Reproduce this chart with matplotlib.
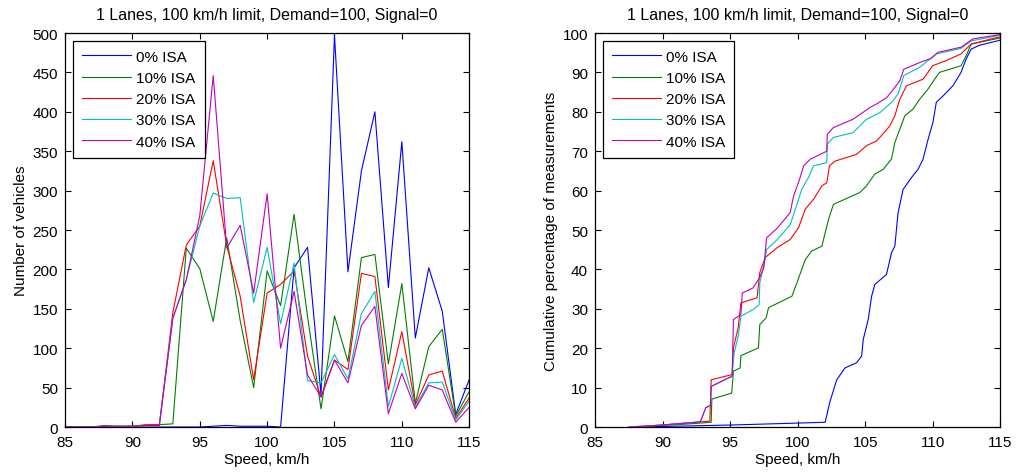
import matplotlib
matplotlib.use('Agg')
import matplotlib.pyplot as plt

plt.rcParams['font.family'] = ['Liberation Sans', 'DejaVu Sans']
plt.rcParams['font.size'] = 11

# --- histogram data (vehicles per 1 km/h speed bin) ---
speeds = list(range(85, 116))
veh_0 = [0, 0, 0, 1, 0, 0, 0, 0, 0, 0, 0, 1, 2, 1, 1, 1, 0, 202, 228, 41,
         497, 197, 325, 400, 177, 362, 113, 202, 147, 16, 60]
veh_10 = [0, 0, 0, 2, 0, 1, 2, 3, 4, 227, 201, 134, 240, 135, 50, 198, 154, 270, 140, 23,
          141, 83, 215, 219, 80, 182, 30, 102, 124, 14, 45]
veh_20 = [0, 0, 0, 1, 1, 1, 3, 3, 145, 231, 255, 338, 230, 166, 60, 170, 181, 198, 90, 38,
          85, 73, 195, 191, 47, 121, 28, 66, 71, 11, 37]
veh_30 = [0, 0, 0, 1, 1, 1, 2, 2, 138, 187, 255, 297, 290, 291, 158, 228, 131, 208, 59, 56,
          92, 61, 144, 172, 26, 87, 25, 56, 57, 9, 33]
veh_40 = [0, 0, 0, 1, 1, 1, 2, 2, 138, 187, 268, 446, 227, 256, 170, 296, 100, 172, 66, 38,
          85, 56, 129, 153, 17, 68, 23, 53, 47, 6, 25]

# --- cumulative curves (speed, percent) ---
cs_0 = [88, 95, 102.04, 102.4, 102.9, 103.51, 104.37, 104.74, 104.86, 105.23, 105.48, 105.72,
        106.58, 106.95, 107.2, 107.44, 107.81, 108.43, 108.92, 109.29, 109.66, 110.02, 110.27,
        110.76, 111.5, 112.1, 112.48, 112.85, 113.46, 114.8, 115]
cp_0 = [0, 0.5, 1.2, 6.5, 12, 15, 16.3, 18, 22.2, 27.3, 33.2, 36.2,
        38.7, 44.2, 45.9, 54.4, 60.3, 63.3, 65.4, 68, 73, 77.3, 82.4,
        84, 86.6, 90, 93.4, 95.9, 96.9, 98, 98.2]
cs_10 = [88, 92, 93.6, 93.65, 95.12, 95.25, 95.75, 95.8, 97.1, 97.2, 97.67, 97.85, 99.58, 99.95,
         100.57, 101.06, 101.8, 102.04, 102.29, 102.65, 104.6, 105.1, 105.72, 106.34, 106.95,
         107.2, 107.94, 108.55, 109.04, 109.66, 110.15, 110.5, 112.1, 112.48, 112.85, 114.8, 115]
cp_10 = [0, 0.8, 1.2, 7.1, 8.6, 14.2, 15, 18.1, 20.1, 26, 27.7, 30.3, 33.2, 36.6,
         42.5, 44.7, 45.9, 49.3, 52.7, 56.5, 59.5, 61.2, 64.2, 65.4, 68,
         72.2, 79, 80.7, 83.2, 85.8, 88.3, 90, 91.7, 94.2, 97.2, 98.6, 98.7]
cs_20 = [88, 91, 93.5, 93.6, 95.15, 95.25, 95.6, 95.8, 97.0, 97.2, 97.6, 98.47, 99.46, 100.07,
         100.57, 101.18, 101.8, 102.16, 102.36, 102.78, 104.37, 105.1, 105.85, 106.83, 107.2,
         107.57, 108.06, 109.3, 110.0, 111.0, 112.1, 112.85, 114.8, 115]
cp_20 = [0, 0.8, 1.5, 12, 13.3, 20.1, 25.2, 31.5, 32.8, 39.2, 43, 45.5, 47.6, 50.6,
         55.3, 57.8, 61.2, 62, 66.3, 67.5, 69.2, 71.4, 72.6, 76.4, 79,
         83.2, 86.6, 88.3, 91.7, 93, 94.7, 97.2, 98.9, 99.0]
cs_30 = [87.5, 90, 92.8, 93.2, 93.55, 93.6, 95.15, 95.3, 95.6, 95.8, 96.7, 97.15, 97.2, 97.6,
         97.7, 98.5, 99.46, 99.95, 100.3, 100.8, 101.18, 102.16, 102.2, 102.65, 104.1, 105.1,
         106.1, 106.95, 107.44, 107.86, 109.04, 110.27, 112.1, 112.85, 114.8, 115]
cp_30 = [0, 0.5, 1.3, 4.9, 5.5, 10.3, 12.9, 18.8, 23, 28.1, 29.8, 31, 36.6, 42.5,
         45, 47.6, 51.4, 56.5, 60.3, 63.3, 66.3, 67.1, 71.8, 73.5, 74.7, 78.1,
         79.8, 82.4, 84.5, 89.2, 91.3, 94.7, 96.1, 98, 99.3, 99.4]
cs_40 = [87.5, 90, 92.8, 93.2, 93.55, 93.6, 95.15, 95.25, 95.8, 95.9, 96.7, 97.2, 97.5, 97.7,
         98.5, 99.45, 99.7, 100.1, 100.45, 100.95, 102.16, 102.2, 102.65, 104.1, 105.36, 105.85,
         106.6, 107.2, 107.57, 107.86, 109.04, 109.9, 110.4, 112.1, 112.97, 114.8, 115]
cp_40 = [0, 0.5, 1.3, 4.9, 5.5, 10.3, 12.9, 27.3, 28.5, 34, 35.3, 38, 40.5, 48,
         50.5, 54.4, 58.6, 62.4, 66.3, 68, 70, 74.3, 76, 78.1, 81.1, 82,
         83.6, 86.2, 87.9, 90.8, 92.5, 93.6, 95.1, 96.4, 98.5, 99.5, 99.6]

labels = ['0% ISA', '10% ISA', '20% ISA', '30% ISA', '40% ISA']
colors = [(0, 0, 1), (0, 0.5, 0), (1, 0, 0), (0, 0.75, 0.75), (0.75, 0, 0.75)]
title = '1 Lanes, 100 km/h limit, Demand=100, Signal=0'

fig = plt.figure(figsize=(10.18, 4.77), dpi=100)
ax1 = fig.add_axes([0.0639, 0.1027, 0.397, 0.826])
ax2 = fig.add_axes([0.5845, 0.1027, 0.398, 0.826])

for vals, lab, col in zip([veh_0, veh_10, veh_20, veh_30, veh_40], labels, colors):
    ax1.plot(speeds, vals, color=col, lw=0.8, label=lab)

for xs, ys, lab, col in zip([cs_0, cs_10, cs_20, cs_30, cs_40],
                            [cp_0, cp_10, cp_20, cp_30, cp_40], labels, colors):
    ax2.plot(xs, ys, color=col, lw=0.8, label=lab)

ax1.set_ylim(0, 500)
ax1.set_yticks(range(0, 501, 50))
ax1.set_ylabel('Number of vehicles', labelpad=3)
ax2.set_ylim(0, 100)
ax2.set_yticks(range(0, 101, 10))
ax2.set_ylabel('Cumulative percentage of measurements', labelpad=3)

for ax in (ax1, ax2):
    ax.set_xlim(85, 115)
    ax.set_xticks(range(85, 116, 5))
    ax.set_xlabel('Speed, km/h', labelpad=2)
    ax.set_title(title, fontsize=11.5, pad=10)
    ax.tick_params(direction='in', length=4, width=0.8, top=True, right=True)
    ax.tick_params(axis='x', pad=6)
    ax.tick_params(axis='y', pad=5)
    for sp in ax.spines.values():
        sp.set_linewidth(0.9)
    leg = ax.legend(loc='upper left', handlelength=3.2, borderaxespad=0.5,
                    fancybox=False, framealpha=1, edgecolor='black',
                    labelspacing=0.47, borderpad=0.6, handletextpad=0.35)
    leg.get_frame().set_linewidth(0.9)

fig.savefig('out.png', dpi=100)
